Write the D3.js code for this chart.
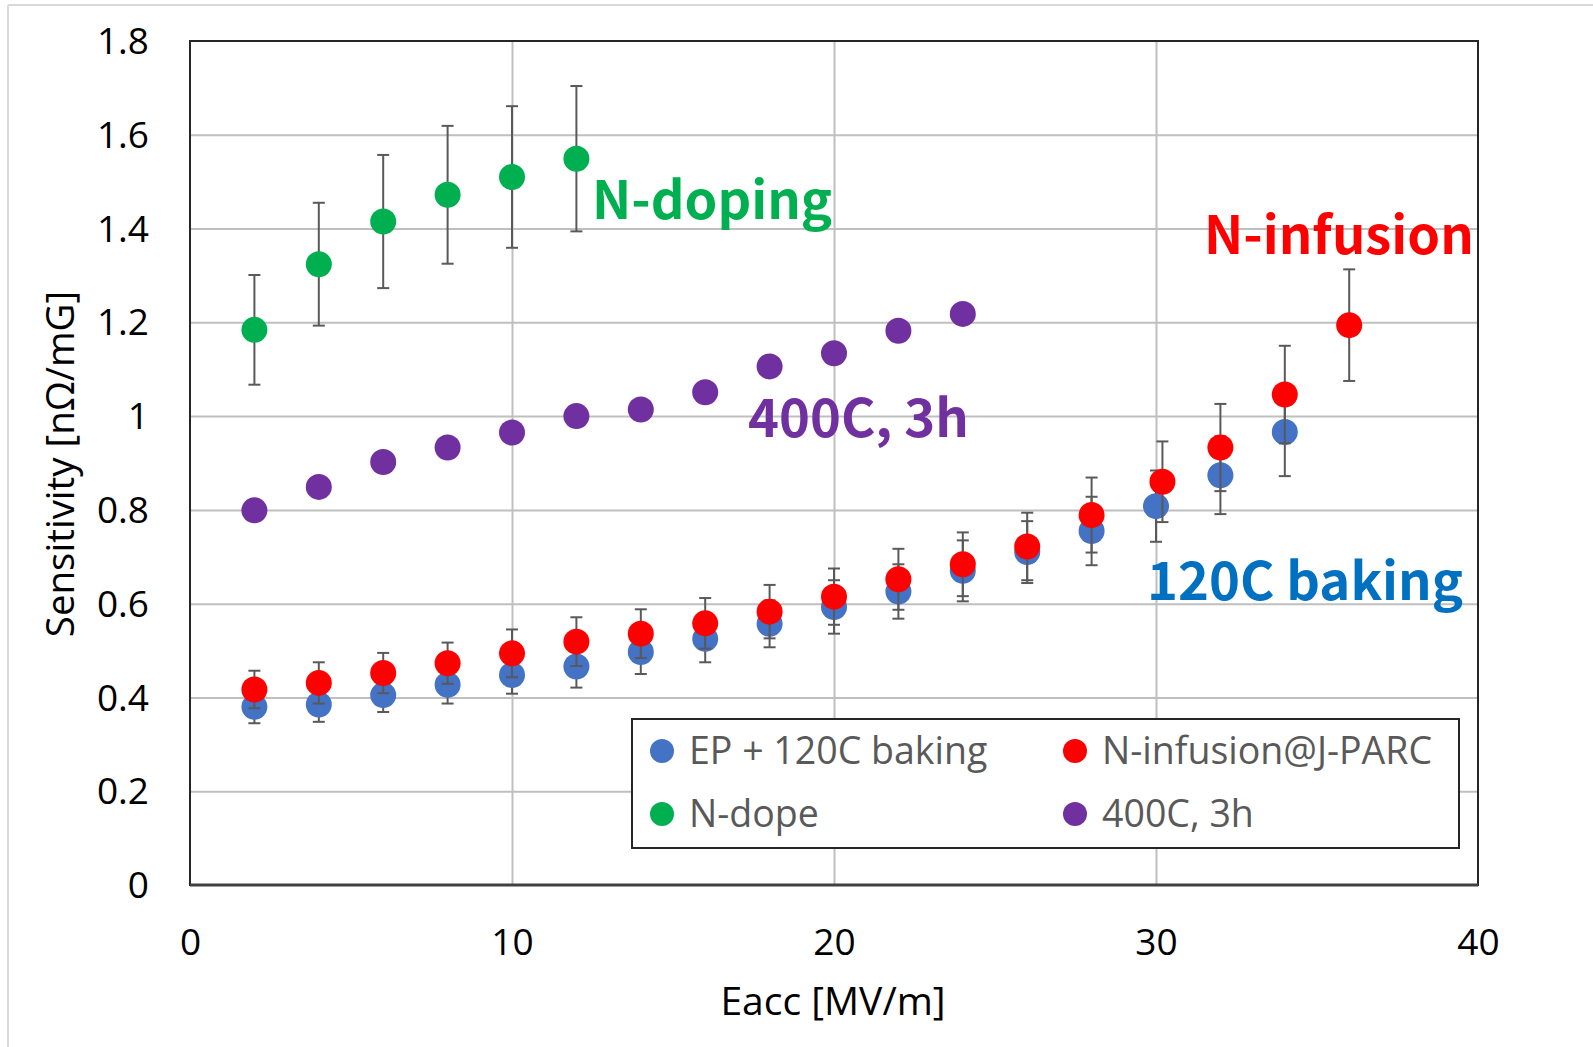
<!DOCTYPE html>
<html>
<head>
<meta charset="utf-8">
<script src="https://cdn.jsdelivr.net/npm/d3@7"></script>
<style>
  html, body { margin: 0; padding: 0; background: #fff; }
  svg { display: block; }
</style>
</head>
<body>
<svg id="chart" width="1593" height="1047"></svg>
<script>
// Eacc [MV/m] for each series
const xEP = [2, 4, 6, 8, 10, 12, 14, 16, 18, 20, 22, 24, 26, 28, 30, 32, 34];
const xInfusion = [2, 4, 6, 8, 10, 12, 14, 16, 18, 20, 22, 24, 26, 28, 30.2, 32, 34, 36];
const xDope = [2, 4, 6, 8, 10, 12];
const x400C = [2, 4, 6, 8, 10, 12, 14, 16, 18, 20, 22, 24];

// Sensitivity [nΩ/mG]
const yEP = [0.380, 0.385, 0.405, 0.427, 0.448, 0.466, 0.497, 0.525, 0.557, 0.593, 0.626, 0.670, 0.710, 0.755, 0.808, 0.874, 0.966];
const yInfusion = [0.417, 0.431, 0.452, 0.473, 0.494, 0.519, 0.536, 0.558, 0.583, 0.615, 0.652, 0.684, 0.722, 0.789, 0.860, 0.933, 1.046, 1.194];
const yDope = [1.184, 1.324, 1.415, 1.472, 1.510, 1.549];
const y400C = [0.799, 0.849, 0.902, 0.933, 0.965, 1.000, 1.014, 1.051, 1.106, 1.134, 1.182, 1.218];

// Symmetric error bar half-widths
const errEP = [0.035, 0.037, 0.036, 0.040, 0.040, 0.045, 0.047, 0.050, 0.050, 0.057, 0.058, 0.065, 0.066, 0.073, 0.076, 0.083, 0.094];
const errInfusion = [0.040, 0.044, 0.043, 0.044, 0.051, 0.052, 0.052, 0.054, 0.057, 0.060, 0.065, 0.068, 0.072, 0.080, 0.086, 0.093, 0.104, 0.119];
const errDope = [0.117, 0.131, 0.142, 0.147, 0.151, 0.155];

const xTicks = [0, 10, 20, 30, 40];
const yTicks = [0, 0.2, 0.4, 0.6, 0.8, 1, 1.2, 1.4, 1.6, 1.8];

const seriesNames = ["EP + 120C baking", "N-infusion@J-PARC", "N-dope", "400C, 3h"];
const seriesColors = ["#4472c4", "#ff0000", "#00b050", "#7030a0"];

const series = [
  { name: seriesNames[0], color: seriesColors[0], x: xEP, y: yEP, err: errEP },
  { name: seriesNames[1], color: seriesColors[1], x: xInfusion, y: yInfusion, err: errInfusion },
  { name: seriesNames[2], color: seriesColors[2], x: xDope, y: yDope, err: errDope },
  { name: seriesNames[3], color: seriesColors[3], x: x400C, y: y400C, err: null }
];

const annotations = [
  { text: "N-doping", color: "#00b050", x: 592, y: 219 },
  { text: "N-infusion", color: "#ff0000", x: 1204, y: 254 },
  { text: "400C, 3h", color: "#7030a0", x: 748, y: 437 },
  { text: "120C baking", color: "#0070c0", x: 1147, y: 600 }
];

const svg = d3.select("#chart");
const W = 1593, H = 1047;
const plot = { left: 190, right: 1478, top: 41, bottom: 885 };

const x = d3.scaleLinear().domain([0, 40]).range([plot.left, plot.right]);
const y = d3.scaleLinear().domain([0, 1.8]).range([plot.bottom, plot.top]);

const labelFont = "'Open Sans', 'Noto Sans', sans-serif";

// Outer frame lines (top and left)
svg.append("line").attr("x1", 8).attr("x2", W).attr("y1", 5).attr("y2", 5)
  .attr("stroke", "#d9d9d9").attr("stroke-width", 2);
svg.append("line").attr("x1", 8).attr("x2", 8).attr("y1", 5).attr("y2", H)
  .attr("stroke", "#d9d9d9").attr("stroke-width", 2);

// Horizontal gridlines
const gy = svg.append("g")
  .attr("transform", `translate(${plot.left},0)`)
  .call(d3.axisLeft(y).tickValues(yTicks.slice(1, -1)).tickSize(-(plot.right - plot.left)).tickFormat(""));
gy.select(".domain").remove();
gy.selectAll(".tick line").attr("stroke", "#bfbfbf").attr("stroke-width", 2);

// Vertical gridlines
const gx = svg.append("g")
  .attr("transform", `translate(0,${plot.bottom})`)
  .call(d3.axisBottom(x).tickValues(xTicks.slice(1, -1)).tickSize(-(plot.bottom - plot.top)).tickFormat(""));
gx.select(".domain").remove();
gx.selectAll(".tick line").attr("stroke", "#bfbfbf").attr("stroke-width", 2);

// Plot frame
svg.append("rect")
  .attr("x", plot.left).attr("y", plot.top)
  .attr("width", plot.right - plot.left).attr("height", plot.bottom - plot.top)
  .attr("fill", "none").attr("stroke", "#262626").attr("stroke-width", 2);
svg.append("line")
  .attr("x1", plot.left).attr("x2", plot.right).attr("y1", plot.bottom).attr("y2", plot.bottom)
  .attr("stroke", "#404040").attr("stroke-width", 3);

// Tick labels
const yAxis = svg.append("g")
  .attr("transform", `translate(${plot.left - 38},0)`)
  .call(d3.axisLeft(y).tickValues(yTicks).tickSize(0).tickFormat(d => d3.format("~g")(d)));
yAxis.select(".domain").remove();
yAxis.selectAll("text")
  .attr("font-family", labelFont).attr("font-size", 37).attr("fill", "#000")
  .attr("dy", "0.34em");

const xAxis = svg.append("g")
  .attr("transform", `translate(0,${plot.bottom + 40})`)
  .call(d3.axisBottom(x).tickValues(xTicks).tickSize(0).tickFormat(d3.format("d")));
xAxis.select(".domain").remove();
xAxis.selectAll("text")
  .attr("font-family", labelFont).attr("font-size", 37).attr("fill", "#000")
  .attr("dy", "0.72em");

// Axis titles
svg.append("text")
  .attr("x", 833).attr("y", 1001).attr("text-anchor", "middle").attr("dy", "0.35em")
  .attr("font-family", labelFont).attr("font-size", 39).attr("fill", "#000")
  .text("Eacc [MV/m]");
svg.append("text")
  .attr("transform", "translate(61,464) rotate(-90)")
  .attr("text-anchor", "middle").attr("dy", "0.35em")
  .attr("font-family", labelFont).attr("font-size", 38.5).attr("fill", "#000")
  .text("Sensitivity [nΩ/mG]");

// Series: error bars then markers
const R = 13, cap = 6;
series.forEach(s => {
  const g = svg.append("g");
  const pts = s.x.map((xv, i) => ({ x: xv, y: s.y[i], e: s.err ? s.err[i] : null }));
  if (s.err) {
    const eb = g.selectAll("g.err").data(pts).join("g").attr("class", "err")
      .attr("stroke", "#595959").attr("stroke-width", 2);
    eb.append("line")
      .attr("x1", d => x(d.x)).attr("x2", d => x(d.x))
      .attr("y1", d => y(d.y - d.e)).attr("y2", d => y(d.y + d.e));
    eb.append("line")
      .attr("x1", d => x(d.x) - cap).attr("x2", d => x(d.x) + cap)
      .attr("y1", d => y(d.y + d.e)).attr("y2", d => y(d.y + d.e));
    eb.append("line")
      .attr("x1", d => x(d.x) - cap).attr("x2", d => x(d.x) + cap)
      .attr("y1", d => y(d.y - d.e)).attr("y2", d => y(d.y - d.e));
  }
  g.selectAll("circle").data(pts).join("circle")
    .attr("cx", d => x(d.x)).attr("cy", d => y(d.y)).attr("r", R)
    .attr("fill", s.color);
});

// Annotations
svg.selectAll("text.annot").data(annotations).join("text")
  .attr("class", "annot")
  .attr("x", d => d.x).attr("y", d => d.y)
  .attr("font-family", "'Noto Sans CJK JP', 'Noto Sans', sans-serif")
  .attr("font-weight", 700).attr("font-size", 52.5)
  .attr("fill", d => d.color)
  .text(d => d.text);

// Legend
const legend = svg.append("g");
legend.append("rect")
  .attr("x", 632).attr("y", 719).attr("width", 827).attr("height", 129)
  .attr("fill", "#fff").attr("stroke", "#262626").attr("stroke-width", 2);
const legendPos = [[662, 751], [1075, 751], [662, 814], [1075, 814]];
series.forEach((s, i) => {
  const [lx, ly] = legendPos[i];
  legend.append("circle").attr("cx", lx).attr("cy", ly).attr("r", 12).attr("fill", s.color);
  legend.append("text")
    .attr("x", lx + 27).attr("y", ly).attr("dy", "0.35em")
    .attr("font-family", labelFont).attr("font-size", 37.5).attr("fill", "#595959")
    .text(s.name);
});
</script>
</body>
</html>
